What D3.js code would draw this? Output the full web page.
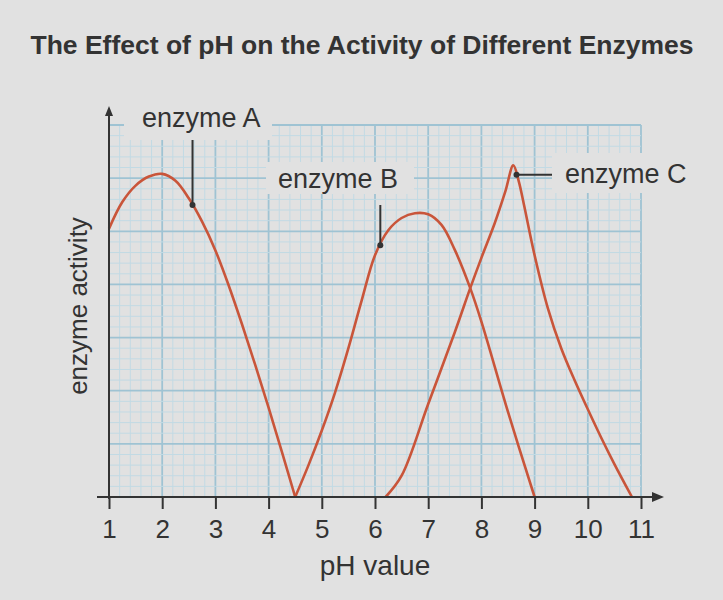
<!DOCTYPE html>
<html>
<head>
<meta charset="utf-8">
<script src="https://cdn.jsdelivr.net/npm/d3@7"></script>
<style>
  body { margin: 0; background: #e1e1e1; }
  svg { display: block; font-family: 'Liberation Sans', Arial, sans-serif; }
</style>
</head>
<body>
<div id="chart"></div>
<script>
const phTicks = [1, 2, 3, 4, 5, 6, 7, 8, 9, 10, 11]

const enzymeAPh = [1, 1.25, 1.5, 1.75, 2, 2.25, 2.5, 2.75, 3, 3.25, 3.5, 3.75, 4, 4.25, 4.5]
const enzymeAAct = [5.05, 5.55, 5.86, 6.03, 6.08, 5.95, 5.62, 5.18, 4.64, 3.98, 3.25, 2.48, 1.68, 0.85, 0]

const enzymeBPh = [4.5, 4.75, 5, 5.25, 5.5, 5.75, 6, 6.25, 6.5, 6.75, 7, 7.25, 7.5, 7.79, 8, 8.5, 9]
const enzymeBAct = [0, 0.6, 1.25, 1.97, 2.8, 3.7, 4.55, 5.02, 5.25, 5.34, 5.32, 5.12, 4.65, 3.93, 3.3, 1.6, 0]

const enzymeCPh = [6.2, 6.5, 7, 7.5, 7.79, 8, 8.25, 8.45, 8.6, 8.7, 8.8, 9, 9.25, 9.5, 9.75, 10, 10.25, 10.5, 10.83]
const enzymeCAct = [0, 0.4, 1.75, 3.1, 3.93, 4.5, 5.15, 5.75, 6.24, 5.95, 5.5, 4.55, 3.55, 2.8, 2.2, 1.65, 1.12, 0.62, 0]

const labelNames = ['enzyme A', 'enzyme B', 'enzyme C']
const pointerPh = [2.57, 6.1, 8.66]

const width = 723
const height = 600
const bg = '#e1e1e1'
const lineColor = '#c9553a'
const ink = '#333'

const x = d3.scaleLinear().domain([1, 11]).range([109, 641])
const y = d3.scaleLinear().domain([0, 7]).range([497, 125])

const svg = d3.select('#chart').append('svg')
  .attr('width', width)
  .attr('height', height)

svg.append('rect').attr('width', width).attr('height', height).attr('fill', bg)

// title
svg.append('text')
  .attr('x', 362)
  .attr('y', 54)
  .attr('text-anchor', 'middle')
  .attr('font-size', 26.5)
  .attr('font-weight', 'bold')
  .attr('fill', ink)
  .text('The Effect of pH on the Activity of Different Enzymes')

// grid paper
const grid = svg.append('g')
const minorX = d3.range(1, 11.001, 0.2)
const minorY = d3.range(0, 7.001, 0.2)
const isMajor = d => Math.abs(d - Math.round(d)) < 1e-6

grid.selectAll('.vx').data(minorX).join('line')
  .attr('x1', d => x(d)).attr('x2', d => x(d))
  .attr('y1', y(0)).attr('y2', y(7))
  .attr('stroke', d => isMajor(d) ? '#9fc3d3' : '#c2dae4')
  .attr('stroke-width', d => isMajor(d) ? 1.8 : 1)

grid.selectAll('.hy').data(minorY).join('line')
  .attr('y1', d => y(d)).attr('y2', d => y(d))
  .attr('x1', x(1)).attr('x2', x(11))
  .attr('stroke', d => isMajor(d) ? '#9fc3d3' : '#c2dae4')
  .attr('stroke-width', d => isMajor(d) ? 1.8 : 1)

// boxes behind the labels
const boxes = [[124, 98, 148, 42], [266, 162, 148, 32], [552, 153, 150, 40]]
svg.selectAll('.box').data(boxes).join('rect')
  .attr('x', d => d[0]).attr('y', d => d[1])
  .attr('width', d => d[2]).attr('height', d => d[3])
  .attr('fill', bg)

// curves
const line = d3.line()
  .x(d => x(d[0]))
  .y(d => y(d[1]))
  .curve(d3.curveCatmullRom.alpha(0.5))

const series = [
  d3.zip(enzymeAPh, enzymeAAct),
  d3.zip(enzymeBPh, enzymeBAct),
  d3.zip(enzymeCPh, enzymeCAct)
]

svg.selectAll('.curve').data(series).join('path')
  .attr('d', line)
  .attr('fill', 'none')
  .attr('stroke', lineColor)
  .attr('stroke-width', 2.6)

// axes
const axes = svg.append('g').attr('stroke', ink).attr('stroke-width', 2)
axes.append('line').attr('x1', x(1)).attr('x2', x(1)).attr('y1', y(0) + 2).attr('y2', 114)
axes.append('line').attr('x1', 97).attr('x2', 654).attr('y1', y(0)).attr('y2', y(0))
svg.append('path').attr('d', `M${x(1)},106 L${x(1) - 4},116 L${x(1) + 4},116 Z`).attr('fill', ink)
svg.append('path').attr('d', `M664,${y(0)} L652,${y(0) - 5} L652,${y(0) + 5} Z`).attr('fill', ink)

const xAxis = d3.axisBottom(x).tickValues(phTicks).tickSize(12).tickPadding(11).tickFormat(d3.format('d'))
const gx = svg.append('g').attr('transform', `translate(0,${y(0)})`).call(xAxis)
gx.select('.domain').remove()
gx.selectAll('.tick line').attr('stroke', ink).attr('stroke-width', 2)
gx.selectAll('.tick text')
  .attr('font-size', 26)
  .attr('font-family', "'Liberation Sans', Arial, sans-serif")
  .attr('fill', ink)

svg.append('text')
  .attr('x', 375)
  .attr('y', 575)
  .attr('text-anchor', 'middle')
  .attr('font-size', 28)
  .attr('fill', ink)
  .text('pH value')

svg.append('text')
  .attr('transform', 'translate(87,306) rotate(-90)')
  .attr('text-anchor', 'middle')
  .attr('font-size', 26)
  .attr('fill', ink)
  .text('enzyme activity')

// labels and pointers
const interp = (ph, xs, ys) => {
  const i = d3.bisectRight(xs, ph)
  const t = (ph - xs[i - 1]) / (xs[i] - xs[i - 1])
  return ys[i - 1] + t * (ys[i] - ys[i - 1])
}
const pts = [
  [pointerPh[0], interp(pointerPh[0], enzymeAPh, enzymeAAct)],
  [pointerPh[1], interp(pointerPh[1], enzymeBPh, enzymeBAct)],
  [pointerPh[2], interp(pointerPh[2], enzymeCPh, enzymeCAct)]
]

svg.append('line')
  .attr('x1', x(pts[0][0])).attr('x2', x(pts[0][0]))
  .attr('y1', 140).attr('y2', y(pts[0][1]))
  .attr('stroke', ink).attr('stroke-width', 2)
svg.append('line')
  .attr('x1', x(pts[1][0])).attr('x2', x(pts[1][0]))
  .attr('y1', 205).attr('y2', y(pts[1][1]))
  .attr('stroke', ink).attr('stroke-width', 2)
svg.append('line')
  .attr('x1', x(pts[2][0])).attr('x2', 552)
  .attr('y1', y(pts[2][1])).attr('y2', y(pts[2][1]))
  .attr('stroke', ink).attr('stroke-width', 2)

svg.selectAll('.dot').data(pts).join('circle')
  .attr('cx', d => x(d[0])).attr('cy', d => y(d[1]))
  .attr('r', 3).attr('fill', ink)

const labelPos = [[142, 127], [278, 188], [565, 183]]
svg.selectAll('.lbl').data(labelNames).join('text')
  .attr('x', (d, i) => labelPos[i][0])
  .attr('y', (d, i) => labelPos[i][1])
  .attr('font-size', 27)
  .attr('fill', ink)
  .text(d => d)
</script>
</body>
</html>
